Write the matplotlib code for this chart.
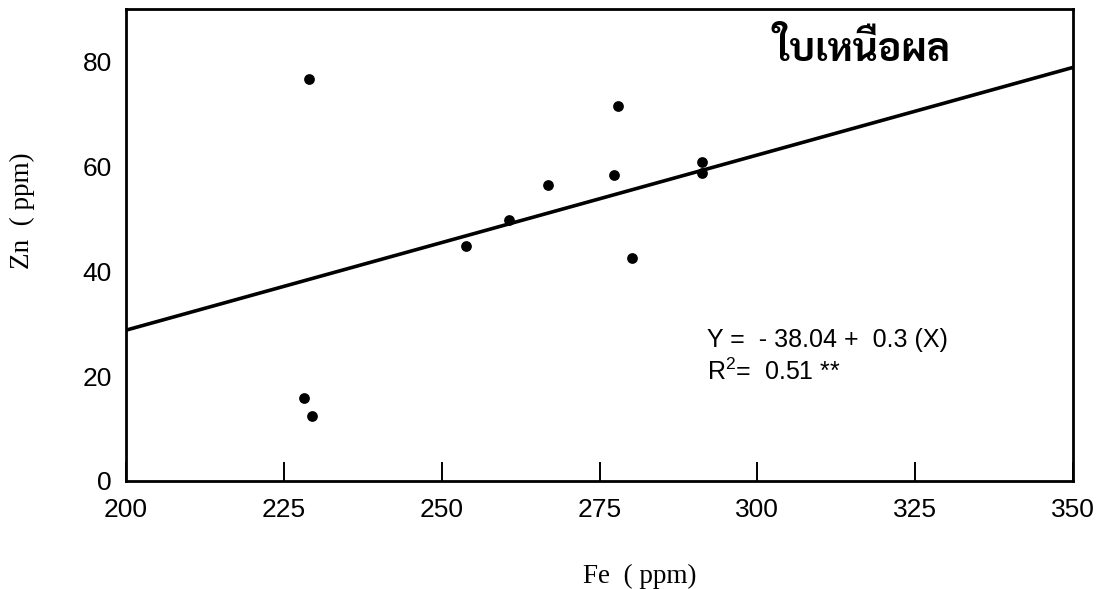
import matplotlib
matplotlib.use("Agg")
import matplotlib.pyplot as plt
from matplotlib import font_manager
import numpy as np

# Leaf Fe vs Zn concentrations (ppm)
fe_ppm = [229.0, 228.2, 229.5, 253.8, 260.6, 266.8, 277.3, 278.0, 280.1, 291.2, 291.2]
zn_ppm = [76.6, 15.9, 12.4, 44.9, 49.8, 56.5, 58.4, 71.5, 42.6, 60.8, 58.7]

# Regression line Y = a + b X
intercept = -38.04
slope = 0.334
r_squared = 0.51

x_ticks = [200, 225, 250, 275, 300, 325, 350]
y_ticks = [0, 20, 40, 60, 80]
title_text = "ใบเหนือผล"


def first_installed(families):
    names = {f.name for f in font_manager.fontManager.ttflist}
    for fam in families:
        if fam in names:
            return fam
    return "DejaVu Sans"


thai_font = first_installed(["Sarabun", "Noto Sans Thai Looped", "Noto Serif Thai",
                             "Noto Sans Thai", "Athiti", "Bai Jamjuree"])

plt.rcParams["font.family"] = ["Liberation Sans", "DejaVu Sans"]
plt.rcParams["mathtext.fontset"] = "custom"
plt.rcParams["mathtext.rm"] = "Liberation Sans"
plt.rcParams["mathtext.it"] = "Liberation Sans"

W, H = 1111, 589
L, R, T, B = 126, 1073, 9, 481

fig = plt.figure(figsize=(W / 100, H / 100), dpi=100)
ax = fig.add_axes([L / W, 1 - B / H, (R - L) / W, (B - T) / H])


def ax_frac(px, py):
    return (px - L) / (R - L), (B - py) / (B - T)


ax.scatter(fe_ppm, zn_ppm, s=60, color="black", zorder=3, linewidths=0)

xs = np.array([x_ticks[0], x_ticks[-1]], dtype=float)
ax.plot(xs, intercept + slope * xs, color="black", lw=2.6, solid_capstyle="butt", zorder=2)

ax.set_xlim(200, 350)
ax.set_ylim(0, 90)
ax.set_xticks(x_ticks)
ax.set_yticks(y_ticks)
ax.tick_params(axis="both", direction="in", length=14, width=1.4, labelsize=19,
               colors="black")
ax.tick_params(axis="x", pad=12)
ax.tick_params(axis="y", pad=10)
for sp in ax.spines.values():
    sp.set_linewidth(2.0)
    sp.set_color("black")

# hide the tick marks that sit on the frame corners
for t in ax.xaxis.get_major_ticks():
    if t.get_loc() in (200, 350):
        t.tick1line.set_visible(False)
for t in ax.yaxis.get_major_ticks():
    if t.get_loc() == 0:
        t.tick1line.set_visible(False)

fig.text(640 / W, 1 - 576 / H, "Fe  ( ppm)", family="Liberation Serif",
         fontsize=19.5, ha="center", va="center")
fig.text(22 / W, 1 - 211 / H, "Zn  ( ppm)", family="Liberation Serif",
         fontsize=19.5, ha="center", va="center", rotation=90)

tx, ty = ax_frac(862, 50)
ax.text(tx, ty, title_text, transform=ax.transAxes, family=thai_font,
        fontweight="bold", fontsize=28, ha="center", va="center")

eq = f"Y =  - {abs(intercept):.2f} +  {slope:.1f} (X)"
ex, ey = ax_frac(707, 347)
ax.text(ex, ey, eq, transform=ax.transAxes, fontsize=18, ha="left", va="baseline")
rx, ry = ax_frac(707, 380)
ax.text(rx, ry, f"R$^{{2}}$=  {r_squared:.2f} **",
        transform=ax.transAxes, fontsize=18, ha="left", va="baseline")

fig.savefig("out.png", dpi=100)
